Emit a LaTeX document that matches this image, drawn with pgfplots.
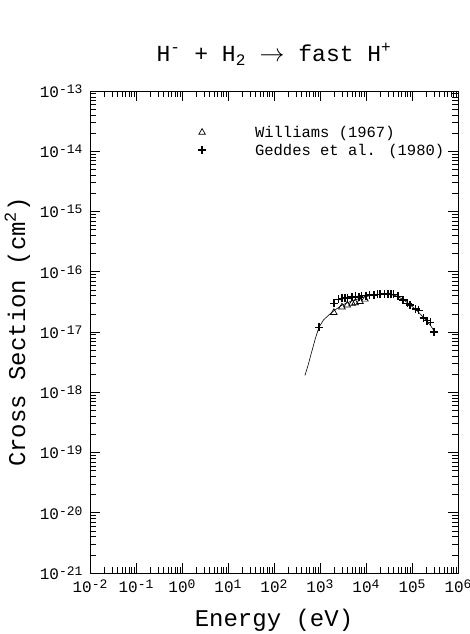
\documentclass[border=0pt]{standalone}
\usepackage{pgfplots}
\pgfplotsset{compat=1.18}
\usepackage{fontspec}
\setmainfont{Liberation Mono}
\newcommand\tl[1]{10\raisebox{0.25em}{\fontsize{13}{13}\selectfont #1}}
\begin{document}
\begin{tikzpicture}
\begin{axis}[
  scale only axis, width=368pt, height=482pt,
  xmode=log, ymode=log,
  xmin=1e-2, xmax=1e6, ymin=1e-21, ymax=1e-13,
  xtick={1e-2,1e-1,1,1e1,1e2,1e3,1e4,1e5,1e6},
  xticklabels={\tl{-2},\tl{-1},\tl{0},\tl{1},\tl{2},\tl{3},\tl{4},\tl{5},\tl{6}},
  ytick={1e-21,1e-20,1e-19,1e-18,1e-17,1e-16,1e-15,1e-14,1e-13},
  yticklabels={\tl{-21},\tl{-20},\tl{-19},\tl{-18},\tl{-17},\tl{-16},\tl{-15},\tl{-14},\tl{-13}},
  tick align=inside, major tick length=10pt, minor tick length=6pt,
  tick style={black, line width=0.6pt},
  axis line style={line width=0.8pt},
  ticklabel style={font=\fontsize{16}{16}\selectfont},
  xticklabel style={yshift=-3pt},
  yticklabel style={xshift=-4pt},
  xlabel={Energy (eV)}, ylabel={Cross Section (cm\textsuperscript{2})},
  label style={font=\fontsize{24}{24}\selectfont},
  xlabel style={yshift=-10pt},
  ylabel style={yshift=3pt},
  title={H\textsuperscript{-} + H\textsubscript{2} $\rightarrow$ fast H\textsuperscript{+}},
  title style={font=\fontsize{23}{23}\selectfont, yshift=16pt},
  legend style={draw=none, fill=none, at={(0.285,0.936)}, anchor=north west,
    font=\fontsize{15.5}{17}\selectfont, row sep=1pt, column sep=47pt},
  legend cell align=left,
]
\addplot[black, only marks, mark=triangle, mark size=3.8pt, mark options={line width=0.7pt}] coordinates {
  (2000,2.1e-17) (3000,2.6e-17) (3900,2.8e-17) (5000,3.0e-17) (5800,3.05e-17)
  (7400,3.2e-17) (9500,3.5e-17)
};
\addlegendentry{Williams (1967)}
\addplot[black, only marks, mark=+, mark size=4pt, mark options={line width=1.4pt}] coordinates {
  (950,1.2e-17) (2000,3.0e-17) (2500,3.5e-17) (3000,3.6e-17) (3500,3.7e-17)
  (4000,3.6e-17) (5000,3.8e-17) (6000,3.9e-17) (7000,3.8e-17) (8000,4.0e-17)
  (1e4,4.0e-17) (1.2e4,4.1e-17) (1.5e4,4.1e-17) (1.8e4,4.2e-17) (2e4,4.2e-17)
  (2.5e4,4.3e-17) (3e4,4.3e-17) (3.5e4,4.2e-17) (4e4,4.2e-17) (5e4,3.9e-17)
  (6.4e4,3.4e-17) (8e4,3.0e-17) (9e4,2.8e-17) (1.2e5,2.4e-17) (1.4e5,2.3e-17)
  (1.8e5,1.7e-17) (2.1e5,1.55e-17) (2.5e5,1.45e-17) (3.0e5,1.0e-17)
};
\addlegendentry{Geddes et al. (1980)}
\addplot[black, line width=0.6pt, no marks, forget plot] coordinates {
  (470,1.9e-18) (550,2.8e-18) (650,4.5e-18) (800,8e-18) (950,1.2e-17)
  (1200,1.6e-17) (1600,1.95e-17) (2000,2.25e-17) (3000,2.8e-17) (5000,3.3e-17)
  (8000,3.7e-17) (1.2e4,4.0e-17) (2e4,4.2e-17) (3e4,4.25e-17) (4.5e4,4.0e-17)
  (6.5e4,3.45e-17) (9e4,2.85e-17) (1.3e5,2.25e-17) (1.9e5,1.65e-17)
  (2.5e5,1.3e-17) (3e5,1.05e-17)
};
\end{axis}
\pgfresetboundingbox
\path ([shift={(-90pt,-61pt)}]current axis.south west) rectangle ([shift={(12pt,91pt)}]current axis.north east);
\end{tikzpicture}
\end{document}
